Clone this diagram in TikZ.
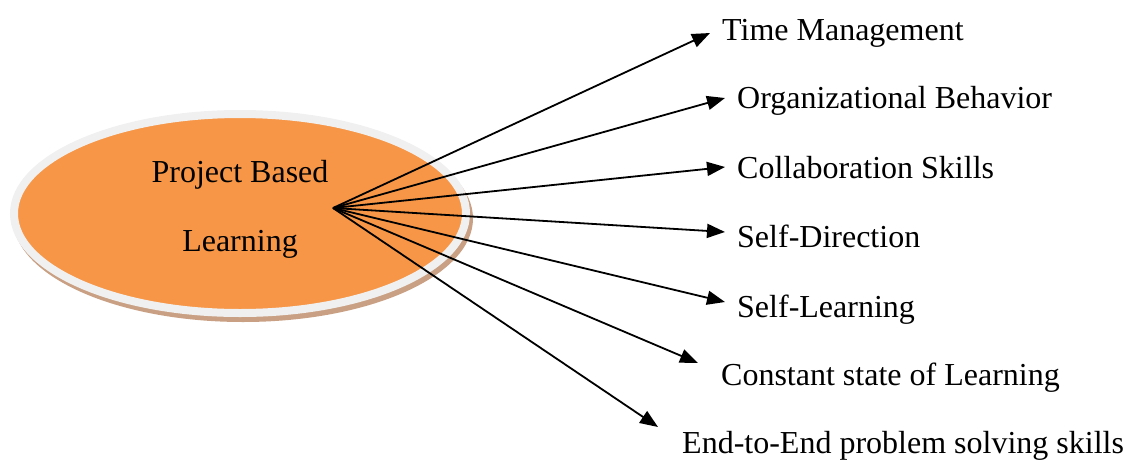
\documentclass[tikz,border=0pt]{standalone}
\usepackage{fontspec}
\setmainfont{Liberation Serif}
\usetikzlibrary{arrows.meta,shapes.geometric}
\definecolor{pblorange}{HTML}{F79646}
\definecolor{pblring}{HTML}{F0F0F0}
\definecolor{pblshadow}{HTML}{C9A083}
\tikzset{
  hubarrow/.style={line width=1.8pt, -{Triangle[length=18pt,width=14pt]}},
  itemtext/.style={anchor=base west, inner sep=0pt, font=\fontsize{32}{36}\selectfont},
  centerbox/.style={ellipse, fill=pblorange, draw=pblring, line width=8pt,
    minimum width=452pt, minimum height=199pt, inner sep=0pt, align=center,
    text depth=15pt, font=\fontsize{32}{69}\selectfont}
}
\begin{document}
\begin{tikzpicture}[x=1pt,y=-1pt]
\useasboundingbox (0,0) rectangle (1133,459);
% shadow
\fill[pblshadow] (243,218.5) ellipse [x radius=230, y radius=103.5];
\node[centerbox] (pbl) at (240,213.5) {Project Based\\Learning};
\coordinate (hub) at (333,208);
\coordinate (t1) at (710,33);
\coordinate (t2) at (725,98);
\coordinate (t3) at (725,167);
\coordinate (t4) at (725,232);
\coordinate (t5) at (725,302);
\coordinate (t6) at (698,363);
\coordinate (t7) at (658,427);
\node[itemtext] (n1) at (722,40) {Time Management};
\node[itemtext] (n2) at (737,108) {Organizational Behavior};
\node[itemtext] (n3) at (737,178) {Collaboration Skills};
\node[itemtext] (n4) at (737,247) {Self-Direction};
\node[itemtext] (n5) at (737,317) {Self-Learning};
\node[itemtext] (n6) at (721,385) {Constant state of Learning};
\node[itemtext] (n7) at (682,453) {End-to-End problem solving skills};
\foreach \i in {1,...,7} \draw[hubarrow] (hub) -- (t\i);
\end{tikzpicture}
\end{document}
